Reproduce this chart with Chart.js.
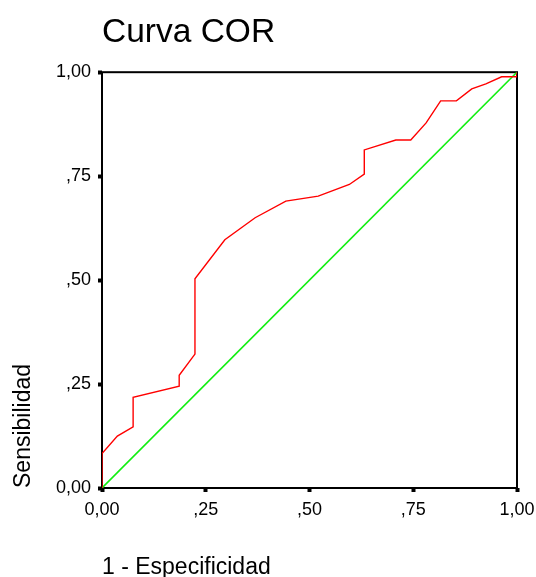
<!DOCTYPE html>
<html>
<head>
<meta charset="utf-8">
<title>Curva COR</title>
<script src="https://cdn.jsdelivr.net/npm/chart.js@4/dist/chart.umd.min.js"></script>
<style>
  html, body { margin: 0; padding: 0; background: #fff; }
  #wrap { width: 536px; height: 577px; }
</style>
</head>
<body>
<div id="wrap"><canvas id="roc"></canvas></div>
<script>
// 1 - especificidad (x) and sensibilidad (y) of the ROC curve
var fpr = [0, 0, 0.037, 0.075, 0.075, 0.186, 0.186, 0.224, 0.224, 0.296, 0.369, 0.443,
    0.521, 0.596, 0.632, 0.632, 0.708, 0.744, 0.781, 0.816, 0.854, 0.891, 0.925, 0.963, 1, 1];
var tpr = [0, 0.083, 0.125, 0.147, 0.218, 0.245, 0.271, 0.322, 0.503, 0.597, 0.650, 0.690,
    0.702, 0.730, 0.755, 0.813, 0.837, 0.837, 0.878, 0.931, 0.931, 0.960, 0.972, 0.989, 0.989, 1];
// reference diagonal
var diagX = [0, 1];
var diagY = [0, 1];
var tickValues = [0, 0.25, 0.5, 0.75, 1];
var tickLabels = ['0,00', ',25', ',50', ',75', '1,00'];

function toPoints(xs, ys) {
    var pts = [];
    for (var i = 0; i < xs.length; i++) {
        pts.push({ x: xs[i], y: ys[i] });
    }
    return pts;
}

function tickText(value) {
    var idx = tickValues.indexOf(Math.round(value * 100) / 100);
    return idx >= 0 ? tickLabels[idx] : '';
}

// frame around the plot area
var framePlugin = {
    id: 'frame',
    beforeDatasetsDraw: function (chart) {
        var a = chart.chartArea;
        var ctx = chart.ctx;
        ctx.save();
        ctx.strokeStyle = '#000';
        ctx.lineWidth = 2;
        ctx.strokeRect(a.left, a.top, a.right - a.left, a.bottom - a.top);
        ctx.restore();
    }
};

var font = "'Liberation Sans', Arial, sans-serif";

new Chart(document.getElementById('roc'), {
    type: 'scatter',
    data: {
        datasets: [
            {
                data: toPoints(fpr, tpr),
                showLine: true,
                borderColor: '#ff0000',
                borderWidth: 1.4,
                pointRadius: 0,
                tension: 0
            },
            {
                data: toPoints(diagX, diagY),
                showLine: true,
                borderColor: '#11ee11',
                borderWidth: 1.6,
                pointRadius: 0,
                tension: 0
            }
        ]
    },
    options: {
        responsive: true,
        maintainAspectRatio: false,
        animation: false,
        layout: { padding: { left: 0, right: 19, top: 0, bottom: 0 } },
        plugins: {
            legend: { display: false },
            tooltip: { enabled: false },
            title: {
                display: true,
                text: 'Curva COR',
                align: 'start',
                fullSize: false,
                color: '#000',
                font: { family: font, size: 33.5, weight: 'normal', lineHeight: 1.2 },
                padding: { top: 13, bottom: 19 }
            }
        },
        scales: {
            x: {
                type: 'linear',
                min: 0,
                max: 1,
                afterFit: function (scale) {
                    scale.height = 89;
                    scale.paddingLeft = 0;
                    scale.paddingRight = 0;
                },
                afterBuildTicks: function (scale) {
                    scale.ticks = tickValues.map(function (v) { return { value: v }; });
                },
                ticks: {
                    color: '#000',
                    padding: 7,
                    maxRotation: 0,
                    font: { family: font, size: 18 },
                    callback: tickText
                },
                grid: {
                    drawOnChartArea: false,
                    drawTicks: true,
                    tickLength: 4,
                    tickWidth: 4,
                    tickColor: '#000'
                },
                border: { display: false },
                title: {
                    display: true,
                    text: '1 - Especificidad',
                    align: 'start',
                    color: '#000',
                    font: { family: font, size: 23, lineHeight: 0.9 },
                    padding: { top: 0, bottom: -1 }
                }
            },
            y: {
                type: 'linear',
                min: 0,
                max: 1,
                afterFit: function (scale) {
                    scale.width = 102;
                    scale.paddingTop = 0;
                    scale.paddingBottom = 0;
                },
                afterBuildTicks: function (scale) {
                    scale.ticks = tickValues.map(function (v) { return { value: v }; });
                },
                ticks: {
                    color: '#000',
                    padding: 7,
                    font: { family: font, size: 18 },
                    callback: tickText
                },
                grid: {
                    drawOnChartArea: false,
                    drawTicks: true,
                    tickLength: 4,
                    tickWidth: 4,
                    tickColor: '#000'
                },
                border: { display: false },
                title: {
                    display: true,
                    text: 'Sensibilidad',
                    align: 'start',
                    color: '#000',
                    font: { family: font, size: 23, lineHeight: 1.2 },
                    padding: { top: 10, bottom: 0 }
                }
            }
        }
    },
    plugins: [framePlugin]
});
</script>
</body>
</html>
